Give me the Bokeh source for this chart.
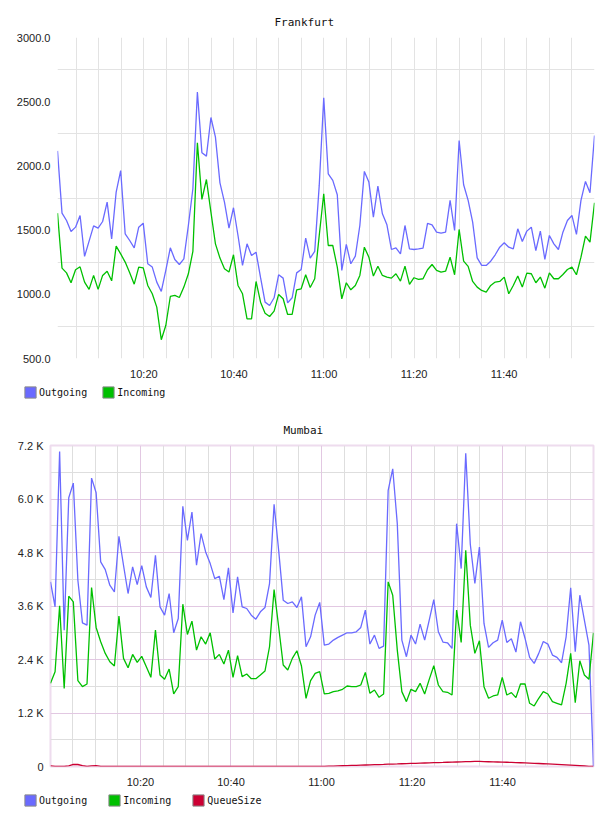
import numpy as np
import pandas as pd
from bokeh.plotting import figure
from bokeh.layouts import column
from bokeh.models import (Range1d, FixedTicker, Grid, Legend, LegendItem, Title,
                          DatetimeTickFormatter, ColumnDataSource)
from bokeh.embed import file_html
from bokeh.resources import INLINE

# ---------------- Frankfurt (messages / min) ----------------
fra_start = "2024-01-01 10:00:49"
fra_step_ms = 60130
fra_outgoing = [
    2117, 1632, 1575, 1489, 1523, 1614, 1295, 1414, 1533, 1515,
    1567, 1718, 1432, 1796, 1964, 1471, 1419, 1362, 1523, 1554,
    1238, 1212, 1095, 1022, 1186, 1362, 1271, 1232, 1276, 1536,
    1822, 2575, 2102, 2076, 2377, 2224, 1868, 1718, 1515, 1674,
    1458, 1225, 1393, 1302, 1328, 1129, 939, 913, 973, 1152,
    1126, 934, 973, 1167, 1193, 1437, 1282, 1334, 1848, 2530,
    1938, 1887, 1775, 1186, 1388, 1238, 1297, 1536, 1957, 1874,
    1601, 1842, 1627, 1541, 1349, 1362, 1315, 1536, 1354, 1349,
    1354, 1360, 1552, 1541, 1484, 1476, 1484, 1731, 1497, 2198,
    1853, 1731, 1562, 1284, 1225, 1225, 1258, 1308, 1367, 1401,
    1367, 1354, 1510, 1411, 1492, 1523, 1341, 1492, 1271, 1458,
    1393, 1349, 1484, 1575, 1614, 1466, 1731, 1879, 1791, 2237,
]
fra_incoming = [
    1632, 1204, 1167, 1090, 1191, 1214, 1095, 1038, 1147, 1038,
    1147, 1180, 1105, 1375, 1315, 1251, 1167, 1079, 1212, 1206,
    1069, 1004, 900, 646, 757, 983, 991, 975, 1056, 1160,
    1334, 2180, 1739, 1894, 1640, 1393, 1282, 1199, 1173, 1308,
    1069, 1004, 809, 809, 1100, 939, 853, 827, 869, 999,
    965, 843, 843, 1035, 1043, 1152, 1053, 1121, 1458, 1783,
    1380, 1380, 1212, 965, 1090, 1035, 1069, 1147, 1367, 1289,
    1142, 1219, 1147, 1134, 1126, 1160, 1103, 1219, 1077, 1129,
    1116, 1121, 1191, 1232, 1186, 1173, 1180, 1289, 1152, 1505,
    1258, 1217, 1100, 1056, 1030, 1017, 1069, 1095, 1100, 1134,
    1004, 1069, 1142, 1056, 1165, 1160, 1090, 1134, 1048, 1167,
    1121, 1121, 1154, 1193, 1212, 1152, 1289, 1453, 1406, 1713,
]
fra_yticks = [500, 1000, 1500, 2000, 2500, 3000]
fra_ylabels = ["500.0", "1000.0", "1500.0", "2000.0", "2500.0", "3000.0"]

# ---------------- Mumbai ----------------
mum_start = "2024-01-01 10:00:07"
mum_step_ms = 60500
mum_outgoing = [
    4141, 3581, 7066, 3059, 6029, 6357, 4178, 3223, 3171, 6469,
    6140, 4589, 4417, 4066, 3917, 5163, 4514, 3880, 4477, 4081,
    4506, 4029, 3790, 4738, 3581, 3395, 3880, 2999, 3320, 5834,
    5073, 5708, 4514, 5223, 4812, 4551, 4215, 4268, 3745, 4454,
    3447, 4253, 3581, 3544, 3395, 3305, 3469, 3566, 4104, 5879,
    4850, 3731, 3656, 3693, 3566, 3805, 2686, 2910, 3395, 3680,
    2723, 2746, 2835, 2895, 2947, 2999, 2999, 3022, 3119, 3507,
    2746, 2947, 2649, 2701, 6193, 6678, 5447, 2835, 2462, 2947,
    2746, 3193, 2835, 3283, 3745, 3022, 2790, 2775, 2649, 5447,
    4439, 7028, 4984, 4104, 4924, 3208, 2671, 2775, 2835, 3283,
    2783, 2865, 2567, 3246, 2872, 2447, 2313, 2537, 2805, 2746,
    2499, 2447, 2328, 2910, 4007, 2574, 3842, 3283, 2723, 0,
]
mum_incoming = [
    1865, 2126, 3604, 1753, 3820, 3693, 1925, 1791, 1850, 4014,
    3119, 2798, 2537, 2350, 2253, 3372, 2425, 2216, 2514, 2335,
    2470, 2238, 2000, 3059, 2052, 1955, 2186, 1627, 1791, 3641,
    2962, 3260, 2611, 2910, 2746, 2999, 2410, 2514, 2298, 2611,
    2000, 2485, 2015, 2074, 1970, 1970, 2052, 2141, 2686, 3969,
    3134, 2276, 2164, 2425, 2596, 2253, 1530, 1925, 2089, 2130,
    1627, 1641, 1679, 1694, 1731, 1806, 1791, 1791, 1828, 2111,
    1641, 1716, 1552, 1627, 4141, 3842, 2611, 1679, 1455, 1731,
    1679, 1865, 1627, 1955, 2261, 1828, 1679, 1664, 1604, 3507,
    2783, 4850, 3171, 2537, 2820, 1791, 1530, 1582, 1604, 2000,
    1604, 1656, 1544, 1850, 1850, 1418, 1358, 1530, 1679, 1627,
    1455, 1418, 1380, 1865, 2537, 1433, 2373, 2052, 1955, 2999,
]
mum_queue = [
    15, 5, 0, 0, 15, 45, 45, 20, 0, 15,
    20, 5, 0, 0, 0, 0, 0, 0, 0, 0,
    0, 0, 0, 0, 0, 0, 0, 0, 0, 0,
    0, 0, 0, 0, 0, 0, 0, 0, 0, 0,
    0, 0, 0, 0, 0, 0, 0, 0, 0, 0,
    0, 0, 0, 0, 0, 0, 0, 0, 0, 0,
    3, 7, 10, 14, 17, 20, 24, 27, 31, 34,
    37, 41, 44, 47, 52, 55, 58, 62, 65, 68,
    71, 75, 78, 81, 85, 88, 91, 95, 98, 101,
    104, 108, 111, 115, 113, 110, 107, 104, 101, 98,
    95, 92, 88, 84, 80, 76, 72, 67, 62, 57,
    52, 47, 41, 35, 29, 23, 17, 11, 5, 0,
]
mum_yticks = [0, 1200, 2400, 3600, 4800, 6000, 7200]
mum_ylabels = ["0", "1.2 K", "2.4 K", "3.6 K", "4.8 K", "6.0 K", "7.2 K"]

time_labels = ["10:20", "10:40", "11:00", "11:20", "11:40"]
series_names = ["Outgoing", "Incoming", "QueueSize"]
series_colors = ["#6a6aff", "#00c000", "#cc0033"]

DAY = "2024-01-01 "
MONO = "DejaVu Sans Mono"
SANS = "Liberation Sans"
W = 608
CHART_H = 382
LEGEND_H = 26


def ms(ts):
    return pd.Timestamp(ts).value / 1e6


def times(start, step_ms, n):
    return pd.Timestamp(start) + pd.to_timedelta(np.arange(n) * step_ms, unit="ms")


def five_minute_marks():
    return [ms(DAY + f"{10 + m // 60}:{m % 60:02d}") for m in range(5, 120, 5)]


def chart(title_text, t, ylo, yhi, left, right, title_x):
    p = figure(width=W, height=CHART_H, x_axis_type="datetime",
               x_range=Range1d(ms(t[0]), ms(t[-1])), y_range=Range1d(ylo, yhi),
               output_backend="svg", toolbar_location=None, frame_align=False,
               min_border_left=left, min_border_right=right,
               min_border_top=37, min_border_bottom=24)
    # left aligned title, shifted so it sits centred over the page
    p.title = Title(text=title_text, align="left", offset=title_x - left, standoff=17,
                    text_font=MONO, text_font_size="11px",
                    text_font_style="normal", text_color="#111111")
    p.background_fill_color = "white"
    p.border_fill_color = "white"
    p.axis.axis_line_color = None
    p.axis.major_tick_line_color = None
    p.axis.minor_tick_line_color = None
    p.axis.major_tick_in = 0
    p.axis.major_tick_out = 0
    p.axis.major_label_text_font = SANS
    p.axis.major_label_text_font_size = "11px"
    p.axis.major_label_text_color = "#222222"
    p.xaxis.ticker = FixedTicker(ticks=[ms(DAY + s) for s in time_labels])
    fmt = "%H:%M"
    p.xaxis.formatter = DatetimeTickFormatter(milliseconds=fmt, seconds=fmt, minsec=fmt,
                                              minutes=fmt, hourmin=fmt, hours=fmt)
    p.xaxis.major_label_standoff = 9
    p.yaxis.major_label_standoff = 7
    return p


def legend_strip(names, colors, spacing):
    q = figure(width=W, height=LEGEND_H, x_range=Range1d(0, W), y_range=Range1d(0, LEGEND_H),
               output_backend="svg", toolbar_location=None, frame_align=False,
               x_axis_location=None, y_axis_location=None,
               min_border_left=0, min_border_right=0, min_border_top=0, min_border_bottom=0)
    q.outline_line_color = None
    q.grid.visible = False
    q.background_fill_color = "white"
    q.border_fill_color = "white"
    items = []
    for name, color in zip(names, colors):
        # swatch glyph kept outside the visible range; only its legend entry shows
        src = ColumnDataSource(dict(l=[-30], r=[-20], t=[-20], b=[-30]))
        r = q.quad(left="l", right="r", top="t", bottom="b", source=src,
                   fill_color=color, line_color="#8a8a8a", line_width=1)
        items.append(LegendItem(label=name, renderers=[r]))
    leg = Legend(items=items, location=(23, 9), orientation="horizontal",
                 glyph_width=14, glyph_height=14, label_height=14,
                 label_standoff=2, spacing=spacing, padding=0, margin=0,
                 border_line_color=None, background_fill_alpha=0,
                 label_text_font=MONO, label_text_font_size="10px",
                 label_text_color="#111111")
    q.add_layout(leg)
    return q


# ---------------- top chart ----------------
t_fra = times(fra_start, fra_step_ms, len(fra_outgoing))
p1 = chart("Frankfurt", t_fra, 500, 3000, 57, 14, 274)
p1.outline_line_color = None
p1.yaxis.ticker = FixedTicker(ticks=fra_yticks)
p1.yaxis.major_label_overrides = {v: s for v, s in zip(fra_yticks, fra_ylabels)}
p1.xgrid.ticker = FixedTicker(ticks=five_minute_marks())
p1.ygrid.ticker = FixedTicker(ticks=[750, 1250, 1750, 2250, 2750])
p1.grid.grid_line_color = "#e3e3e3"
p1.grid.grid_line_width = 1
p1.line(t_fra, fra_outgoing, color=series_colors[0], line_width=1.3)
p1.line(t_fra, fra_incoming, color=series_colors[1], line_width=1.3)
leg1 = legend_strip(series_names[:2], series_colors[:2], 14)

# ---------------- bottom chart ----------------
t_mum = times(mum_start, mum_step_ms, len(mum_outgoing))
p2 = chart("Mumbai", t_mum, 0, 7200, 50, 15, 283)
p2.outline_line_color = "#eedcee"
p2.outline_line_width = 2
p2.yaxis.ticker = FixedTicker(ticks=mum_yticks)
p2.yaxis.major_label_overrides = {v: s for v, s in zip(mum_yticks, mum_ylabels)}
major_t = [ms(DAY + s) for s in time_labels]
minor_t = [m for m in five_minute_marks() if m not in major_t]
p2.xgrid.ticker = FixedTicker(ticks=minor_t)
p2.ygrid.ticker = FixedTicker(ticks=[600, 1800, 3000, 4200, 5400, 6600])
p2.grid.grid_line_color = "#dedede"
p2.add_layout(Grid(dimension=0, ticker=FixedTicker(ticks=major_t),
                   grid_line_color="#e2c8e2"))
p2.add_layout(Grid(dimension=1, ticker=FixedTicker(ticks=mum_yticks[1:-1]),
                   grid_line_color="#e2c8e2"))
p2.line(t_mum, mum_outgoing, color=series_colors[0], line_width=1.3)
p2.line(t_mum, mum_incoming, color=series_colors[1], line_width=1.3)
p2.line(t_mum, mum_queue, color=series_colors[2], line_width=1.3)
leg2 = legend_strip(series_names, series_colors, 20)

layout = column(p1, leg1, p2, leg2, spacing=0)
open("out.html", "w").write(file_html(layout, INLINE))
